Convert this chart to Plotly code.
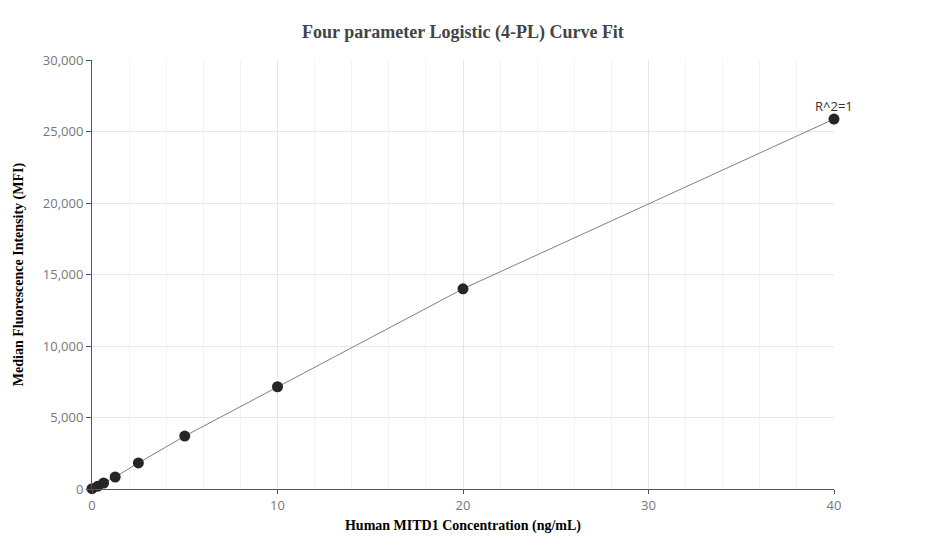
import plotly.graph_objects as go

concentration = [0, 0.3125, 0.625, 1.25, 2.5, 5, 10, 20, 40]
mfi = [20, 200, 420, 840, 1820, 3700, 7150, 14000, 25870]
annotation_text = "R^2=1"

fig = go.Figure()
fig.add_trace(go.Scatter(
    x=concentration, y=mfi, mode="lines+markers",
    line=dict(color="#808080", width=1),
    marker=dict(color="#262626", size=11),
    cliponaxis=False,
    showlegend=False,
))
fig.add_annotation(x=concentration[-1], y=mfi[-1], text=annotation_text,
                   showarrow=False, yshift=13,
                   font=dict(family="Open Sans", size=13, color="#333"))

fig.update_layout(
    width=927, height=560,
    margin=dict(l=84, r=101, t=52, b=79),
    paper_bgcolor="white", plot_bgcolor="white",
    title=dict(text="<b>Four parameter Logistic (4-PL) Curve Fit</b>", x=0.5, xref="paper",
               xanchor="center", y=0.957, yanchor="middle",
               font=dict(family="Times New Roman, Liberation Serif", size=18, color="#444")),
    font=dict(family="Open Sans", size=12, color="#777"),
)
fig.update_xaxes(
    range=[0, 40], tickvals=[0, 10, 20, 30, 40], ticktext=["0", "10", "20", "30", "40"],
    showgrid=True, gridcolor="#e3e8f0", gridwidth=1,
    minor=dict(dtick=2, showgrid=True, gridcolor="#f2f4f8", gridwidth=1),
    showline=True, linecolor="#555", linewidth=1,
    ticks="outside", ticklen=4, tickcolor="#555",
    tickfont=dict(size=13),
    zeroline=False, automargin=False,
    title=dict(text="<b>Human MITD1 Concentration (ng/mL)</b>",
               font=dict(family="Times New Roman, Liberation Serif", size=14, color="black"),
               standoff=7),
)
fig.update_yaxes(
    range=[0, 30000], tickvals=[0, 5000, 10000, 15000, 20000, 25000, 30000],
    tickformat=",d",
    showgrid=True, gridcolor="#e3e8f0", gridwidth=1,
    showline=True, linecolor="#555", linewidth=1,
    ticks="outside", ticklen=5, tickcolor="#555",
    tickfont=dict(size=13),
    zeroline=False, automargin=False,
    title=dict(text="<b>Median Fluorescence Intensity (MFI)</b>",
               font=dict(family="Times New Roman, Liberation Serif", size=14, color="black"),
               standoff=15),
)
fig.write_html("out.html")
